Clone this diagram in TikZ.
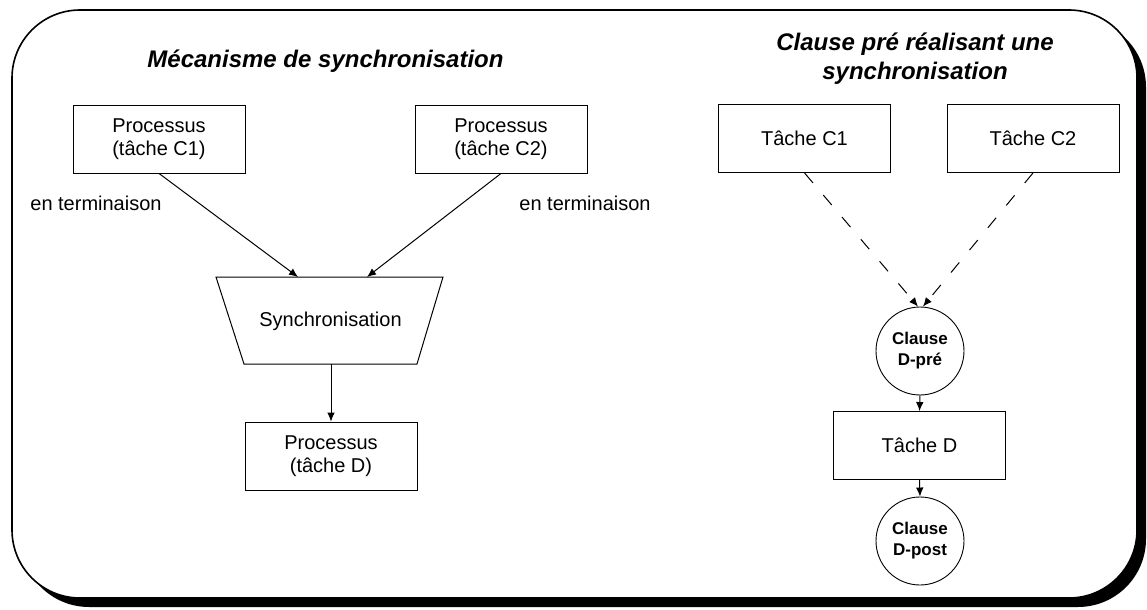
\documentclass[tikz,border=0pt]{standalone}
\usepackage{fontspec}
\setmainfont{Liberation Sans}
\usetikzlibrary{arrows.meta,shapes.geometric}

\tikzset{
  titlefont/.style={font=\fontsize{12}{14.5}\selectfont\bfseries\itshape, align=center},
  boxtext/.style={font=\fontsize{10}{11.5}\selectfont, align=center},
  procbox/.style={draw, line width=0.45pt, minimum width=86pt, minimum height=34pt,
                  inner sep=0pt, boxtext},
  clausecircle/.style={draw, circle, line width=0.45pt, minimum size=44pt, inner sep=0pt,
                  font=\fontsize{8.5}{10.5}\selectfont\bfseries, align=center},
  arr/.style={line width=0.5pt, -{Latex[length=4.5pt,width=3.8pt]}},
  dasharr/.style={arr, dash pattern=on 6.5pt off 8pt},
}

\begin{document}
\begin{tikzpicture}[x=0.5pt, y=-0.5pt]
  \useasboundingbox (0,0) rectangle (1147,610);

  % frame with drop shadow
  \fill[black, rounded corners=34pt] (21,19) rectangle (1146,607);
  \filldraw[fill=white, draw=black, line width=0.8pt, rounded corners=34pt]
    (12,10) rectangle (1137,598);

  % ---- left part: synchronisation mechanism ----
  \node[titlefont] (titleL) at (325.5,61) {Mécanisme de synchronisation};

  \node[procbox] (pc1) at (159,139) {Processus\\(tâche C1)};
  \node[procbox] (pc2) at (501,139) {Processus\\(tâche C2)};

  \node[boxtext] (termL) at (96,203) {en terminaison};
  \node[boxtext] (termR) at (585,203) {en terminaison};

  % trapezoid
  \draw[line width=0.5pt] (216,277) -- (443,277) -- (417,364) -- (244,364) -- cycle;
  \node[boxtext] (sync) at (330.5,321) {Synchronisation};
  \coordinate (syncInA) at (298,277);
  \coordinate (syncInB) at (367,277);
  \coordinate (syncOut) at (331,364);

  \node[procbox] (pd) at (331,456) {Processus\\(tâche D)};

  \draw[arr] (pc1.south) -- (syncInA);
  \draw[arr] (pc2.south) -- (syncInB);
  \draw[arr] (syncOut) -- (pd.north);

  % ---- right part: pre clause ----
  \node[titlefont] (titleR) at (915,59) {Clause pré réalisant une\\synchronisation};

  \node[procbox] (tc1) at (804.5,138.5) {Tâche C1};
  \node[procbox] (tc2) at (1033,138.5) {Tâche C2};

  \node[clausecircle] (pre) at (920,351) {Clause\\D-pré};
  \node[procbox] (td) at (919.5,445.5) {Tâche D};
  \node[clausecircle] (post) at (920,541) {Clause\\D-post};

  \draw[dasharr] (tc1.south) -- ([xshift=-1pt]pre.north);
  \draw[dasharr] (tc2.south) -- ([xshift=1.5pt]pre.north);
  \draw[arr] (pre.south) -- (td.north);
  \draw[arr] (td.south) -- (post.north);
\end{tikzpicture}
\end{document}
